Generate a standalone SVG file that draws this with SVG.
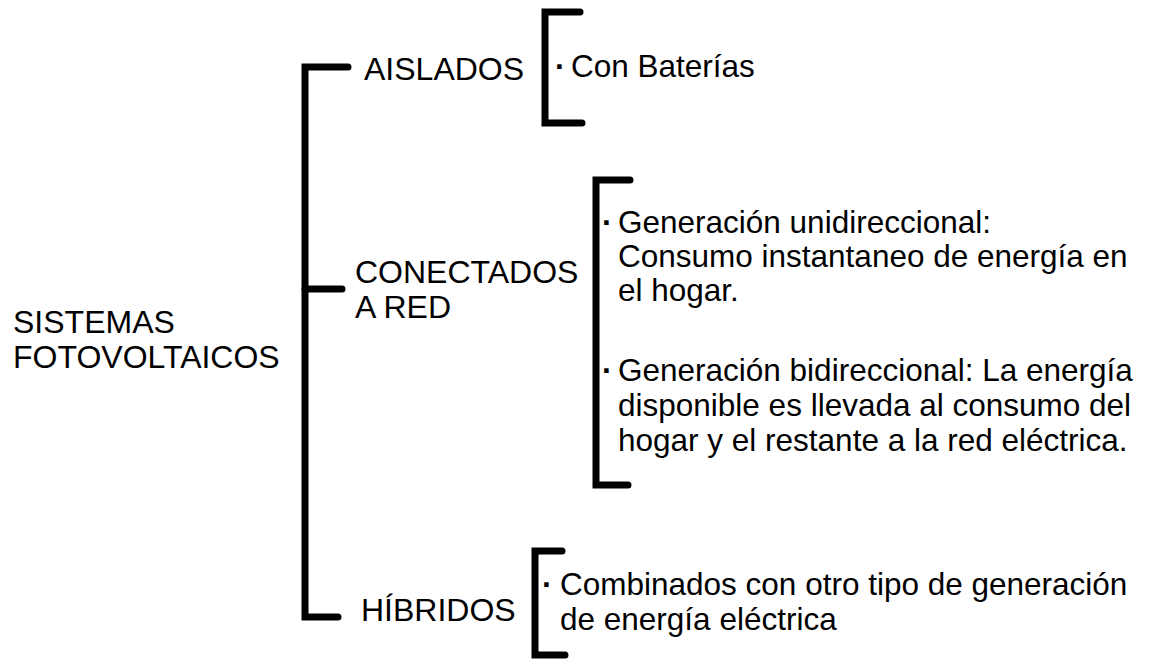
<svg xmlns="http://www.w3.org/2000/svg" width="1150" height="660" viewBox="0 0 1150 660">
<style>
text{font-family:"Liberation Sans",Arial,sans-serif;font-size:32px;fill:#000}
.t{font-size:31.5px}
.b{font-size:31.5px;font-weight:bold}
.br{fill:none;stroke:#000;stroke-width:7;stroke-linecap:round;stroke-linejoin:miter}
</style>
<rect width="1150" height="660" fill="#fff"/>
<g id="connectors">
<path class="br" d="M348,67 H305 V617 H338"/>
<path class="br" d="M305,289 H342"/>
<path class="br" d="M580,12 H545 V123 H582"/>
<path class="br" d="M630,180 H596 V485 H628"/>
<path class="br" d="M562,551 H535 V655 H565"/>
</g>
<g id="root"><text x="13" y="333">SISTEMAS</text><text x="13" y="368">FOTOVOLTAICOS</text></g>
<g id="aislados"><text x="364" y="80">AISLADOS</text></g>
<g id="conectados"><text x="355" y="283">CONECTADOS</text><text x="355" y="318">A RED</text></g>
<g id="hibridos"><text x="361" y="621">HÍBRIDOS</text></g>
<g id="baterias"><text class="b" x="555" y="77">·</text><text class="t" x="571" y="77">Con Baterías</text></g>
<g id="unidireccional"><text class="b" x="602" y="233">·</text><text class="t" x="618" y="233">Generación unidireccional:</text><text class="t" x="618" y="267">Consumo instantaneo de energía en</text><text class="t" x="618" y="301">el hogar.</text></g>
<g id="bidireccional"><text class="b" x="602" y="381">·</text><text class="t" x="618" y="381">Generación bidireccional: La energía</text><text class="t" x="618" y="416">disponible es llevada al consumo del</text><text class="t" x="618" y="451">hogar y el restante a la red eléctrica.</text></g>
<g id="combinados"><text class="b" x="542" y="595">·</text><text class="t" x="560" y="595">Combinados con otro tipo de generación</text><text class="t" x="560" y="630">de energía eléctrica</text></g>
</svg>
